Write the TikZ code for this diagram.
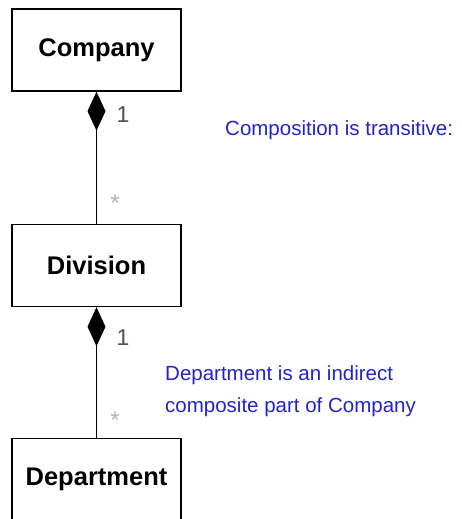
\documentclass[tikz,border=0pt]{standalone}
\usepackage{fontspec}
\setmainfont{Liberation Sans}
\usetikzlibrary{arrows.meta}
\definecolor{noteblue}{RGB}{35,35,200}
\definecolor{multgray}{RGB}{80,80,80}
\tikzset{
	classbox/.style={draw,line width=1.4pt,minimum width=169pt,minimum height=82pt,inner sep=0pt,font=\fontsize{25.5}{28}\selectfont\bfseries},
	composes/.style={line width=1.3pt,{Diamond[length=39pt,width=18pt]}-},
	mult/.style={text=multgray,inner sep=0pt,font=\fontsize{23}{26}\selectfont},
	star/.style={text=gray!60,inner sep=0pt,font=\fontsize{24}{26}\selectfont},
	note/.style={text=noteblue,inner sep=0pt,align=left,font=\fontsize{20.5}{32}\selectfont}
}

\begin{document}
\begin{tikzpicture}[x=1pt,y=-1pt]
				  \useasboundingbox (0,0) rectangle (462,519);
				  \node[classbox](Company) at (96.5,50) {Company};
				  \node[classbox](Division) at (96.5,265.5) {Division};
				  \node[classbox](Department) at (96.5,479.5) {Department};
				  \draw[composes] (Company.south) -- (Division.north);
				  \draw[composes] (Division.south) -- (Department.north);
				  \node[mult](C1) at (123,115) {1};
				  \node[star](CS) at (115,203) {*};
				  \node[mult](D1) at (123,338) {1};
				  \node[star](DS) at (115,420) {*};
				  \node[note,anchor=west](transitive) at (225,130) {Composition is transitive:};
				  \node[note,anchor=west](indirect) at (165,391) {Department is an indirect\\composite part of Company};
				  \end{tikzpicture}
\end{document}
